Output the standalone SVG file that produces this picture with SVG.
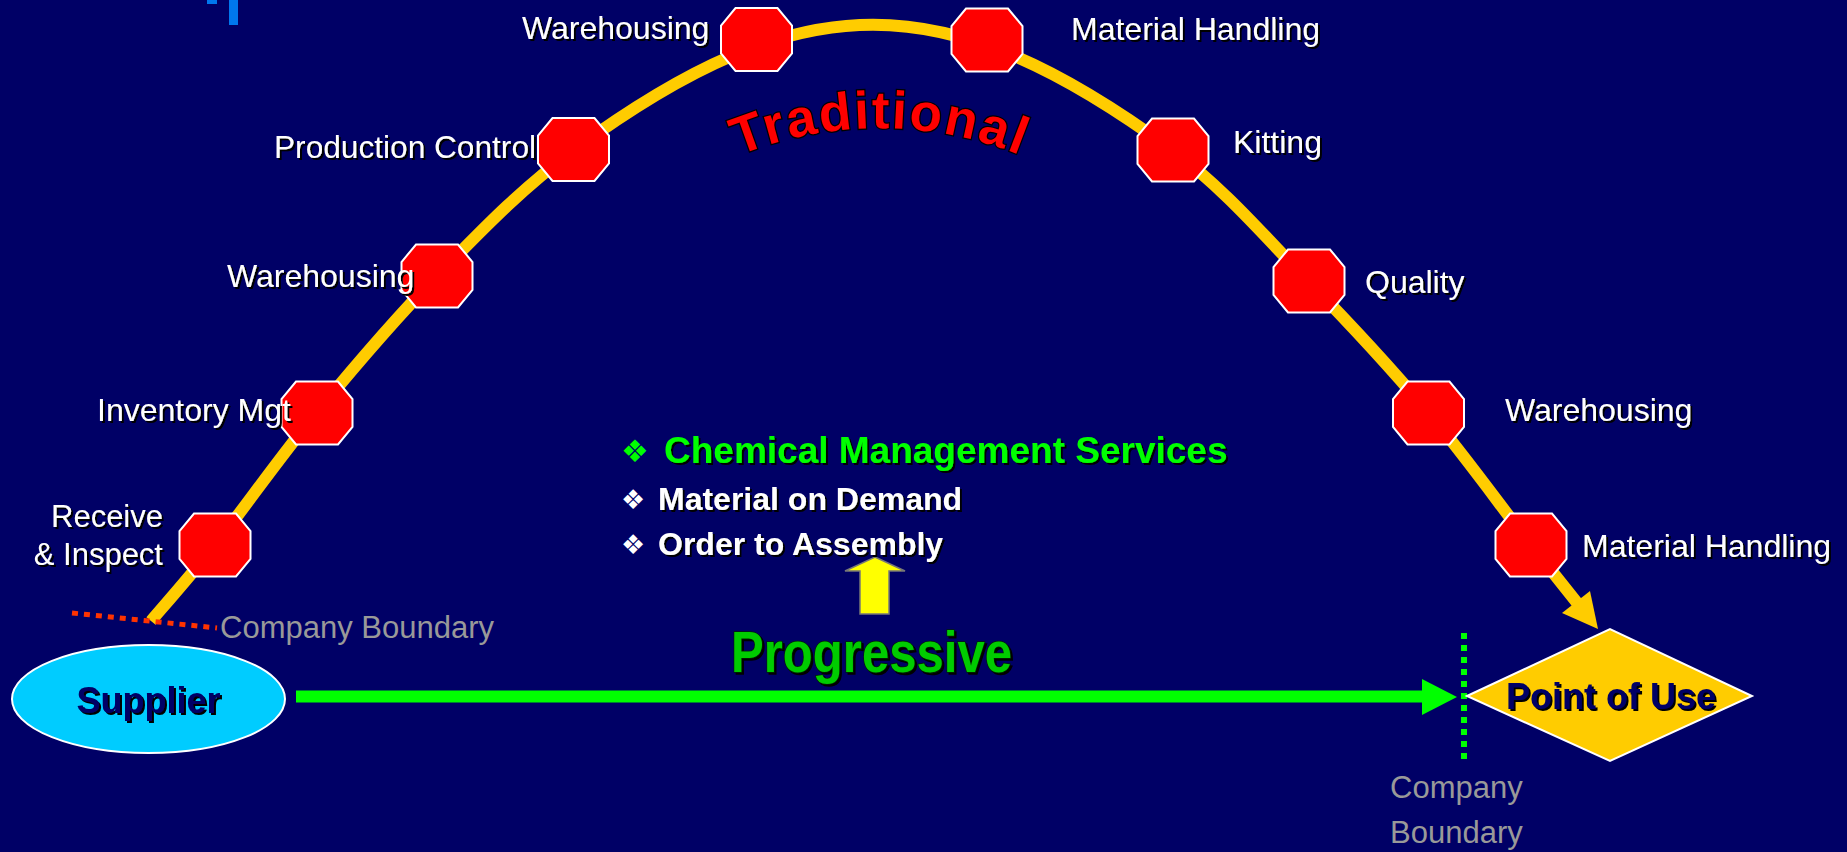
<svg xmlns="http://www.w3.org/2000/svg" width="1847" height="852" viewBox="0 0 1847 852">
<defs>
<style>
.lbl{font-family:"Liberation Sans",Arial,sans-serif;font-size:32px;fill:#ffffff;filter:url(#sh)}
.gray{font-family:"Liberation Sans",Arial,sans-serif;font-size:31px;fill:#999999}
.bold{font-family:"Liberation Sans",Arial,sans-serif;font-weight:bold}
.bul{font-family:"DejaVu Sans",sans-serif}
.oct{fill:#ff0000;stroke:#ffffff;stroke-width:2}
</style>
<filter id="sh" x="-10%" y="-30%" width="130%" height="170%">
<feDropShadow dx="2" dy="2" stdDeviation="0.3" flood-color="#000000" flood-opacity="1"/>
</filter>
<polygon id="octagon" class="oct" points="-21,-31.5 21,-31.5 35.5,-14 35.5,14 21,31.5 -21,31.5 -35.5,14 -35.5,-14"/>
<path id="arc" d="M 700 174 A 377 377 0 0 1 1060 174"/>
</defs>
<rect x="0" y="0" width="1847" height="852" fill="#000066"/>
<rect x="207" y="0" width="10" height="4" fill="#0077ee"/>
<rect x="229" y="0" width="9" height="25" fill="#0077ee"/>

<g id="connectors">
<path d="M 151 621 C 161.7 608.3 187.3 579.8 215 545 C 242.7 510.2 280 456.8 317 412 C 354 367.2 394.2 319.7 437 276 C 479.8 232.3 520.8 189 574 150 C 801.7 -17 944.3 -17 1172 150 C 1225.7 189.7 1266.3 238.3 1309 282 C 1351.7 325.7 1391 368.2 1428 412 C 1465 455.8 1502.7 508.8 1531 545 L 1578 604" fill="none" stroke="#ffcc00" stroke-width="12"/>
<polygon points="1598,629 1562,613 1590,591" fill="#ffcc00"/>
<line x1="72" y1="613" x2="217" y2="628" stroke="#ff3300" stroke-width="5" stroke-dasharray="6 6"/>
<line x1="296" y1="696.5" x2="1424" y2="696.5" stroke="#00ff00" stroke-width="12"/>
<polygon points="1422,679 1457,697 1422,715" fill="#00ff00"/>
<line x1="1464" y1="633" x2="1464" y2="760" stroke="#00ff00" stroke-width="6" stroke-dasharray="6 6"/>
<polygon points="875,557 905,571 889,571 889,614 860,614 860,571 845,571" fill="#ffff00" stroke="#777777" stroke-width="1.5"/>
</g>

<g id="node-receive"><use href="#octagon" x="215" y="545"/>
<text class="lbl" x="163" y="527" text-anchor="end" style="font-size:31px">Receive</text>
<text class="lbl" x="163" y="565" text-anchor="end" style="font-size:31px">&amp; Inspect</text></g>
<g id="node-inventory"><use href="#octagon" x="317" y="413"/>
<text class="lbl" x="97" y="421">Inventory Mgt</text></g>
<g id="node-warehousing1"><use href="#octagon" x="437" y="276"/>
<text class="lbl" x="227" y="287">Warehousing</text></g>
<g id="node-production"><use href="#octagon" x="573.5" y="149.5"/>
<text class="lbl" x="274" y="158" textLength="262" lengthAdjust="spacingAndGlyphs">Production Control</text></g>
<g id="node-warehousing2"><use href="#octagon" x="756.5" y="39.5"/>
<text class="lbl" x="522" y="39">Warehousing</text></g>
<g id="node-material1"><use href="#octagon" x="987" y="40"/>
<text class="lbl" x="1071" y="40">Material Handling</text></g>
<g id="node-kitting"><use href="#octagon" x="1173" y="150"/>
<text class="lbl" x="1233" y="153">Kitting</text></g>
<g id="node-quality"><use href="#octagon" x="1309" y="281"/>
<text class="lbl" x="1365" y="293">Quality</text></g>
<g id="node-warehousing3"><use href="#octagon" x="1428.5" y="413"/>
<text class="lbl" x="1505" y="421">Warehousing</text></g>
<g id="node-material2"><use href="#octagon" x="1531" y="545"/>
<text class="lbl" x="1582" y="557">Material Handling</text></g>

<g id="node-supplier">
<ellipse cx="148.5" cy="699" rx="136.5" ry="54" fill="#00ccff" stroke="#ffffff" stroke-width="2"/>
<text class="bold" x="148.5" y="713" font-size="36" fill="#000066" text-anchor="middle" filter="url(#sh)">Supplier</text>
</g>
<g id="node-pointofuse">
<polygon points="1467,696 1610,629 1752,696 1610,761" fill="#ffcc00" stroke="#ffffff" stroke-width="2"/>
<text class="bold" x="1611" y="709" font-size="36" fill="#000066" text-anchor="middle" filter="url(#sh)">Point of Use</text>
</g>

<g id="boundary-labels">
<text class="gray" x="220" y="638">Company Boundary</text>
<text class="gray" x="1390" y="798">Company</text>
<text class="gray" x="1390" y="843">Boundary</text>
</g>

<g id="traditional">
<text class="bold" font-size="53" fill="#ff0000" stroke="#000000" stroke-width="2.5" paint-order="stroke" letter-spacing="2"><textPath href="#arc" startOffset="50%" text-anchor="middle">Traditional</textPath></text>
</g>

<g id="progressive">
<text class="bold" x="731" y="672" font-size="58" fill="#00cc00" stroke="#002200" stroke-width="1.5" paint-order="stroke" textLength="281" lengthAdjust="spacingAndGlyphs" filter="url(#sh)">Progressive</text>
</g>

<g id="bullets">
<text class="bul" x="621" y="462" font-size="31" fill="#00ff00">❖</text>
<text class="bold" x="664" y="463" font-size="37" fill="#00ff00" filter="url(#sh)">Chemical Management Services</text>
<text class="bul" x="621" y="509" font-size="27" fill="#ffffff">❖</text>
<text class="bold" x="658" y="510" font-size="32" fill="#ffffff" filter="url(#sh)">Material on Demand</text>
<text class="bul" x="621" y="554" font-size="27" fill="#ffffff">❖</text>
<text class="bold" x="658" y="555" font-size="32" fill="#ffffff" filter="url(#sh)">Order to Assembly</text>
</g>
</svg>
